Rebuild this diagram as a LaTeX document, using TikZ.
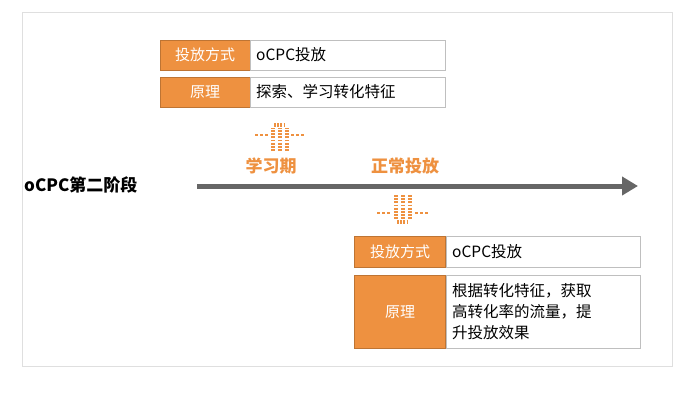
\documentclass[tikz,border=0pt]{standalone}
\usepackage{fontspec}
\setmainfont{Noto Sans CJK SC}
\usetikzlibrary{arrows.meta}
\definecolor{org}{HTML}{EE9140}
\tikzset{
 lab/.style={fill=org,draw=org!80!black,text=white,font=\fontsize{15}{18}\selectfont,inner sep=0pt},
 cell/.style={draw=gray!50,fill=white,font=\fontsize{15.5}{21}\selectfont,inner sep=0pt},
 ttl/.style={text=org,font=\bfseries\fontsize{17}{20}\selectfont},
 dsh/.style={org,line width=4pt,dash pattern=on 1.8pt off 1.4pt}
}
\begin{document}
\begin{tikzpicture}[x=1pt,y=-1pt]
\useasboundingbox (0,0) rectangle (700,402);
\draw[gray!25] (22,12) rectangle (672,366);
% top table
\node[lab,minimum width=90,minimum height=30] (l1) at (205,55) {投放方式};
\node[cell,minimum width=195,minimum height=30,anchor=west,text width=183,align=left] (c1) at (250,55) {oCPC投放};
\node[lab,minimum width=90,minimum height=30] (l2) at (205,92) {原理};
\node[cell,minimum width=195,minimum height=30,anchor=west,text width=183,align=left] (c2) at (250,92) {探索、学习转化特征};
% timeline
\node[font=\bfseries\fontsize{17}{20}\selectfont,anchor=west,inner sep=0pt] (t) at (24,185) {oCPC第二阶段};
\coordinate (a0) at (197,186);
\coordinate (a1) at (638,186);
\draw[gray!80!black,line width=5pt,-{Triangle[length=16pt,width=18pt]}] (a0) -- (a1);
\node[ttl] (p1) at (271,166) {学习期};
\node[ttl] (p2) at (405,166) {正常投放};
% up arrow
\foreach \dx in {-7,0,7} \draw[dsh] (280+\dx,151) -- (280+\dx,128);
\draw[dsh] (274,125) -- (286,125);
\draw[org,line width=2pt,dash pattern=on 3pt off 2pt] (255,135) -- (269,135) (291,135) -- (305,135);
% down arrow
\foreach \dx in {-7,0,7} \draw[dsh] (403+\dx,195) -- (403+\dx,219);
\draw[dsh] (397,222) -- (409,222);
\draw[org,line width=2pt,dash pattern=on 3pt off 2pt] (377,213) -- (391,213) (415,213) -- (429,213);
% bottom table
\node[lab,minimum width=91,minimum height=31] (l3) at (400,252) {投放方式};
\node[cell,minimum width=194,minimum height=31,anchor=west,text width=182,align=left] (c3) at (446,252) {oCPC投放};
\node[lab,minimum width=91,minimum height=73] (l4) at (400,312) {原理};
\node[cell,minimum width=194,minimum height=73,anchor=west,text width=182,align=left] (c4) at (446,312) {根据转化特征，获取\\高转化率的流量，提\\升投放效果};
\end{tikzpicture}
\end{document}
